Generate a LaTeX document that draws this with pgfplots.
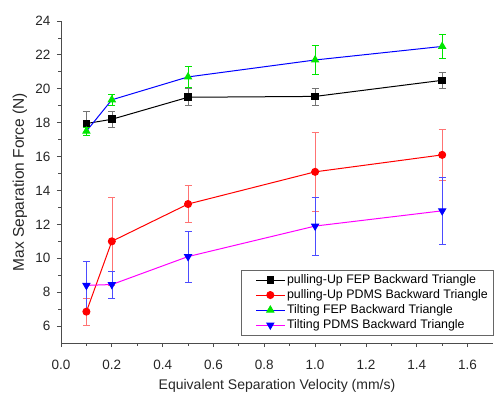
\documentclass[border=0pt]{standalone}
\usepackage{pgfplots}
\pgfplotsset{compat=1.18}
\usepackage{pgfplotstable}
\usepackage{fontspec}
\setmainfont{Liberation Sans}
\definecolor{mgreen}{RGB}{0,230,0}
\definecolor{mmag}{RGB}{255,0,255}

\pgfplotstableread{
x y e
0.1 17.95 0.7
0.2 18.2 0.5
0.5 19.5 0.5
1.0 19.55 0.5
1.5 20.5 0.47
}\fepPull
\pgfplotstableread{
x y e
0.1 6.85 0.8
0.2 11.0 2.6
0.5 13.2 1.1
1.0 15.1 2.35
1.5 16.1 1.5
}\pdmsPull
\pgfplotstableread{
x y e
0.1 17.5 0.25
0.2 19.35 0.35
0.5 20.7 0.6
1.0 21.7 0.87
1.5 22.5 0.69
}\fepTilt
\pgfplotstableread{
x y e
0.1 8.4 1.45
0.2 8.45 0.8
0.5 10.1 1.5
1.0 11.9 1.7
1.5 12.8 2.0
}\pdmsTilt

\begin{document}
\begin{tikzpicture}
\path[use as bounding box] (-61pt,-51pt) rectangle (433pt,343pt);
\begin{axis}[
  at={(0,0)}, anchor=south west,
  scale only axis, width=432pt, height=322pt,
  xmin=0, xmax=1.7, ymin=5, ymax=24,
  axis lines*=left,
  axis line style={-, black!70, line width=1pt},
  tick align=outside, tick pos=left,
  major tick length=4pt, minor tick length=2.5pt,
  every tick/.style={black!70, line width=0.8pt},
  xtick={0,0.2,...,1.6}, ytick={6,8,...,24},
  minor x tick num=1, minor y tick num=1,
  /pgf/number format/assume math mode=true,
  xticklabel style={/pgf/number format/.cd, fixed, fixed zerofill, precision=1},
  xticklabel shift=10pt,
  yticklabel shift=3pt,
  ticklabel style={font=\fontsize{13.5}{15}\selectfont, text=black!85},
  xlabel={Equivalent Separation Velocity (mm/s)},
  ylabel={Max Separation Force (N)},
  xlabel style={font=\fontsize{14}{16}\selectfont, text=black!85, at={(axis description cs:0.5,-0.134)}, anchor=center},
  ylabel style={font=\fontsize{15.5}{17}\selectfont, text=black!85, at={(axis description cs:-0.095,0.5)}, anchor=center},
  legend style={at={(rel axis cs:0.4167,0.025)}, anchor=south west,
    draw=black!60, font=\fontsize{12.4}{14}\selectfont, row sep=0.5pt,
    inner xsep=3pt, inner ysep=2.5pt},
  legend cell align=left,
  legend image code/.code={\path (0,0); \draw[mark repeat=2,mark phase=2] plot coordinates {(0.4cm,0cm) (0.9cm,0cm) (1.4cm,0cm)};},
  clip=false,
]
\addplot[black, line width=1pt, mark=square*, mark size=3.3pt, mark options={solid},
  error bars/.cd, y dir=both, y explicit,
  error bar style={black!55, line width=0.6pt},
  error mark options={rotate=90, mark size=3.5pt, black!55, line width=0.6pt}]
  table[x=x, y=y, y error=e] {\fepPull};
\addlegendentry{pulling-Up FEP Backward Triangle}
\addplot[red, line width=1pt, mark=*, mark size=3.5pt, mark options={solid, fill=red},
  error bars/.cd, y dir=both, y explicit,
  error bar style={red!55, line width=0.6pt},
  error mark options={rotate=90, mark size=3.5pt, red!55, line width=0.6pt}]
  table[x=x, y=y, y error=e] {\pdmsPull};
\addlegendentry{pulling-Up PDMS Backward Triangle}
\addplot[blue, line width=1pt, mark=triangle*, mark size=4pt, mark options={solid, draw=mgreen, fill=mgreen},
  error bars/.cd, y dir=both, y explicit,
  error bar style={mgreen, line width=0.6pt},
  error mark options={rotate=90, mark size=3.5pt, mgreen, line width=0.6pt}]
  table[x=x, y=y, y error=e] {\fepTilt};
\addlegendentry{Tilting FEP Backward Triangle}
\addplot[mmag, line width=1pt, mark=triangle*, mark size=4pt, mark options={solid, rotate=180, draw=blue, fill=blue},
  error bars/.cd, y dir=both, y explicit,
  error bar style={blue!70, line width=0.6pt},
  error mark options={rotate=90, mark size=3.5pt, blue!70, line width=0.6pt}]
  table[x=x, y=y, y error=e] {\pdmsTilt};
\addlegendentry{Tilting PDMS Backward Triangle}
\end{axis}
\end{tikzpicture}
\end{document}
